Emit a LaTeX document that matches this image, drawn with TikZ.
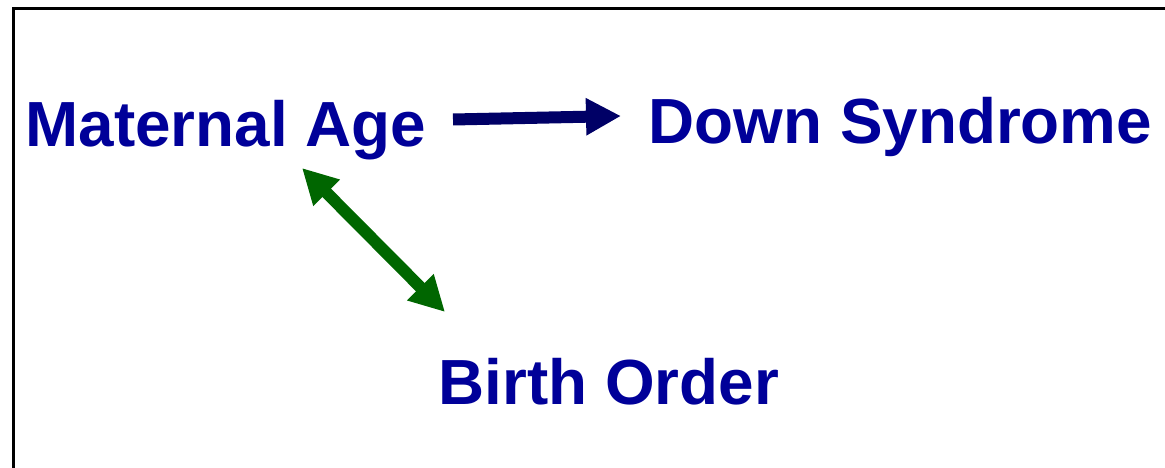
\documentclass[tikz,border=0pt]{standalone}
\usepackage{fontspec}
\setmainfont{Liberation Sans}
\usetikzlibrary{arrows.meta}
\definecolor{labelblue}{HTML}{000099}
\definecolor{navyarrow}{HTML}{000066}
\definecolor{greenarrow}{HTML}{006600}
\tikzset{
  label text/.style={inner sep=0pt, anchor=base west, text=labelblue, font=\bfseries\fontsize{63.8}{70}\selectfont},
  fat arrow/.style={line width=12pt, -{Triangle[length=35pt,width=35pt]}},
  fat double arrow/.style={line width=12pt, {Triangle[length=35pt,width=35pt]}-{Triangle[length=35pt,width=35pt]}},
  frame line/.style={line width=3pt, black}
}
\begin{document}
\begin{tikzpicture}[x=1pt,y=-1pt]
\useasboundingbox (0,0) rectangle (1165,468);
\coordinate (fb) at (13.5,468);
\coordinate (fc) at (13.5,8.5);
\coordinate (fr) at (1165,8.5);
\draw[frame line] (fb) -- (fc) -- (fr);
\node[label text] (ma) at (25.4,147) {Maternal Age};
\node[label text] (ds) at (648.5,144) {Down Syndrome};
\node[label text] (bo) at (438.5,404) {Birth Order};
\coordinate (a1s) at (453,119.5);
\coordinate (a1e) at (621,116);
\draw[fat arrow, navyarrow] (a1s) -- (a1e);
\coordinate (a2s) at (302,168);
\coordinate (a2e) at (445,312);
\draw[fat double arrow, greenarrow] (a2s) -- (a2e);
\end{tikzpicture}
\end{document}
